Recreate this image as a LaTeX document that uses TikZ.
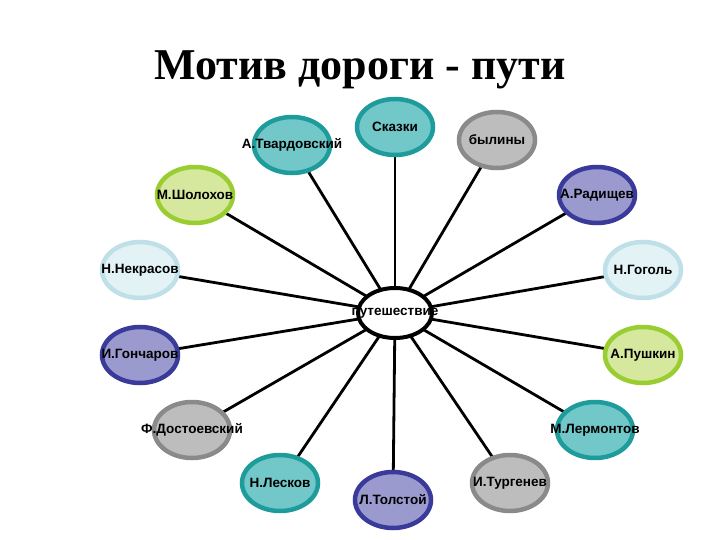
\documentclass[tikz,border=0pt]{standalone}
\usepackage{fontspec}
\setmainfont{Liberation Serif}
\newfontfamily\lab{Liberation Sans}
\usetikzlibrary{shapes.geometric,backgrounds}
\definecolor{tealB}{HTML}{1E9C9C}\definecolor{tealF}{HTML}{72C8C8}
\definecolor{grayB}{HTML}{8A8A8A}\definecolor{grayF}{HTML}{BDBDBD}
\definecolor{limeB}{HTML}{9ACD32}\definecolor{limeF}{HTML}{D6E89E}
\definecolor{navyB}{HTML}{3A3A9A}\definecolor{navyF}{HTML}{9A9ACF}
\definecolor{lbB}{HTML}{BFE0E8}\definecolor{lbF}{HTML}{E2F2F5}
\tikzset{
 ov/.style={ellipse,line width=4.5pt,minimum width=76pt,minimum height=56pt,inner sep=0pt},
 lbl/.style={font=\lab\bfseries\fontsize{13.5}{15}\selectfont},
 teal/.style={ov,draw=tealB,fill=tealF},
 gray/.style={ov,draw=grayB,fill=grayF},
 lime/.style={ov,draw=limeB,fill=limeF},
 navy/.style={ov,draw=navyB,fill=navyF},
 lb/.style={ov,draw=lbB,fill=lbF},
 spoke/.style={line width=2.8pt,black}
}
\begin{document}
\begin{tikzpicture}[x=1pt,y=-1pt]
\useasboundingbox (0,0) rectangle (720,540);
\node[font=\bfseries\fontsize{44}{50}\selectfont] (t) at (360,70) {Мотив дороги - пути};
\node[ellipse,draw,line width=4pt,fill=white,minimum width=74pt,minimum height=50pt,inner sep=0pt] (c) at (395,313) {};
\node[lbl] (ct) at (395,313) {путешествие};
\foreach \n/\s/\x/\y/\t in {
 a/teal/395/127/Сказки, b/teal/292/145/А.Твардовский, d/gray/497/140/былины,
 e/lime/195/195/М.Шолохов, f/navy/597/195/А.Радищев,
 g/lb/140/270/Н.Некрасов, h/lb/643/270/Н.Гоголь,
 i/navy/140/355/И.Гончаров, j/lime/643/355/А.Пушкин,
 k/gray/192/430/Ф.Достоевский, l/teal/595/430/М.Лермонтов,
 m/teal/280/483/Н.Лесков, n/navy/393/500/Л.Толстой, o/gray/510/483/И.Тургенев}{
 \node[\s] (\n) at (\x,\y) {};
 \node[lbl] (\n t) at (\x,\y) {\t};
 \begin{scope}[on background layer]\draw[spoke] (c.center) -- (\n.center);\end{scope}
}
\end{tikzpicture}
\end{document}
